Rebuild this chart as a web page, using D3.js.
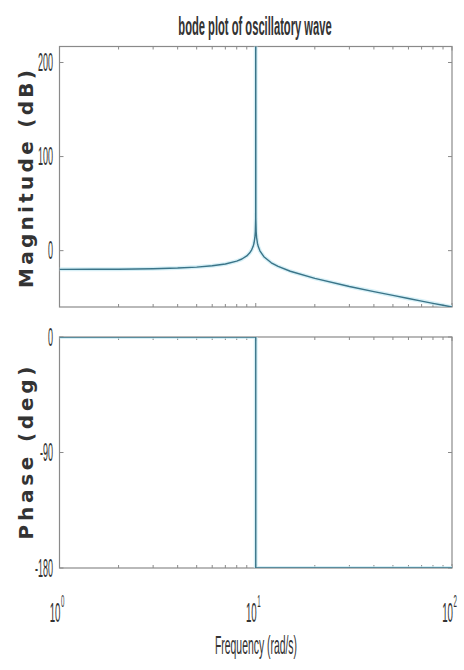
<!DOCTYPE html>
<html>
<head>
<meta charset="utf-8">
<script src="https://cdn.jsdelivr.net/npm/d3@7"></script>
<style>
  html, body { margin: 0; padding: 0; background: #fff; }
  svg { display: block; }
  text { font-family: "Liberation Sans", Arial, sans-serif; fill: #333; }
  text.ylab { font-family: "DejaVu Sans", sans-serif; }
</style>
</head>
<body>
<svg id="chart" width="464" height="670"></svg>
<script>
// Frequency samples (rad/s) for the magnitude response
const magFreq = [1, 1.5, 2, 3, 4, 5, 6, 7, 8, 8.5, 9, 9.3, 9.5, 9.7, 9.8, 9.9, 9.95, 9.99,
                 10, 10.01, 10.05, 10.1, 10.2, 10.3, 10.5, 11, 12, 13, 15, 20, 30, 40, 50,
                 60, 70, 80, 90, 100];
// Magnitude (dB) at each sample; the resonance at 10 rad/s runs off the top
const magDb = [-19.9, -19.8, -19.7, -19.2, -18.5, -17.5, -16.1, -14.2, -11.1, -8.9, -5.6, -2.6,
               0.2, 4.6, 8.1, 14.0, 20.0, 34.0,
               300, 34.0, 20.0, 14.0, 7.9, 4.3, -0.2, -6.4, -12.9, -16.8, -21.9, -29.5,
               -38.1, -43.5, -47.6, -50.9, -53.6, -56.0, -58.1, -59.9];
// Phase response: 0 deg below resonance, -180 deg above
const phaseFreq = [1, 10, 10, 100];
const phaseDeg = [0, 0, -180, -180];

const magTicks = [0, 100, 200];
const phaseTicks = [-180, -90, 0];
const freqTicks = [1, 10, 100];
const freqTickExp = ["0", "1", "2"];

const titleText = "bode plot of oscillatory wave";
const magLabel = "Magnitude (dB)";
const phaseLabel = "Phase (deg)";
const freqLabel = "Frequency (rad/s)";

const svg = d3.select("#chart");
const left = 59.5, right = 452;
const magTop = 46.5, magBottom = 307;
const phTop = 337, phBottom = 568;

const x = d3.scaleLog().domain([1, 100]).range([left, right]);
const yMag = d3.scaleLinear().domain([-59.9, 217]).range([magBottom, magTop]);
const yPh = d3.scaleLinear().domain([-180, 0]).range([phBottom, phTop]);

const frameColor = "#8a8a8a";
const lineColor = "#3a7488";
const haloColor = "#c6e9f4";

// minor log ticks between decades
const minorTicks = [];
for (let d = 1; d < 100; d *= 10) for (let k = 2; k <= 9; k++) minorTicks.push(d * k);

function panel(yScale, top, bottom, ticks, clipId) {
  const g = svg.append("g");
  svg.append("defs").append("clipPath").attr("id", clipId)
    .append("rect").attr("x", left).attr("y", top).attr("width", right - left).attr("height", bottom - top);

  // frame
  g.append("rect").attr("x", left).attr("y", top)
    .attr("width", right - left).attr("height", bottom - top)
    .attr("fill", "none").attr("stroke", frameColor).attr("stroke-width", 1.2);

  // y ticks on both sides
  ticks.forEach(t => {
    const yy = yScale(t);
    g.append("line").attr("x1", left).attr("x2", left + 4).attr("y1", yy).attr("y2", yy)
      .attr("stroke", frameColor);
    g.append("line").attr("x1", right - 4).attr("x2", right).attr("y1", yy).attr("y2", yy)
      .attr("stroke", frameColor);
    g.append("text")
      .attr("transform", `translate(53,${yy}) scale(0.36,1)`)
      .attr("text-anchor", "end").attr("dy", "0.35em")
      .attr("font-size", 25).attr("fill", "#666")
      .text(String(t));
  });

  // x ticks (major + minor) on top and bottom edges
  freqTicks.concat(minorTicks).forEach(f => {
    const xx = x(f);
    const len = freqTicks.includes(f) ? 4 : 3;
    g.append("line").attr("x1", xx).attr("x2", xx).attr("y1", top).attr("y2", top + len)
      .attr("stroke", frameColor);
    g.append("line").attr("x1", xx).attr("x2", xx).attr("y1", bottom - len).attr("y2", bottom)
      .attr("stroke", frameColor);
  });
  return g;
}

function drawLine(g, xs, ys, yScale, clipId) {
  const pts = xs.map((f, i) => [x(f), yScale(ys[i])]);
  const line = d3.line();
  const lg = g.append("g").attr("clip-path", `url(#${clipId})`);
  lg.append("path").attr("d", line(pts)).attr("fill", "none")
    .attr("stroke", haloColor).attr("stroke-width", 4).attr("stroke-opacity", 0.7)
    .attr("stroke-linejoin", "round");
  lg.append("path").attr("d", line(pts)).attr("fill", "none")
    .attr("stroke", lineColor).attr("stroke-width", 1.4)
    .attr("stroke-linejoin", "round");
}

const gMag = panel(yMag, magTop, magBottom, magTicks, "clipMag");
drawLine(gMag, magFreq, magDb, yMag, "clipMag");

const gPh = panel(yPh, phTop, phBottom, phaseTicks, "clipPh");
drawLine(gPh, phaseFreq, phaseDeg, yPh, "clipPh");

// title, condensed horizontally
svg.append("text")
  .attr("transform", "translate(255,35) scale(0.43,1)")
  .attr("text-anchor", "middle")
  .attr("font-size", 26).attr("font-weight", "bold").attr("fill", "#222")
  .text(titleText);

// rotated axis labels
function yLabel(text, cy, len) {
  svg.append("text")
    .attr("class", "ylab")
    .attr("transform", `translate(33,${cy}) rotate(-90)`)
    .attr("text-anchor", "middle")
    .attr("font-size", 20).attr("font-weight", "bold").attr("fill", "#111")
    .attr("textLength", len).attr("lengthAdjust", "spacing")
    .text(text);
}
yLabel(magLabel, 179, 218);
yLabel(phaseLabel, 453, 173);

// frequency tick labels: 10 with superscript exponent
freqTicks.forEach((f, i) => {
  const xx = x(f);
  svg.append("text")
    .attr("transform", `translate(${xx + 1},622) scale(0.36,1)`)
    .attr("text-anchor", "end")
    .attr("font-size", 27).attr("fill", "#666")
    .text("10");
  svg.append("text")
    .attr("transform", `translate(${xx + 1.5},607) scale(0.36,1)`)
    .attr("text-anchor", "start")
    .attr("font-size", 17).attr("fill", "#666")
    .text(freqTickExp[i]);
});

// x axis label, condensed horizontally
svg.append("text")
  .attr("transform", "translate(256,654) scale(0.4,1)")
  .attr("text-anchor", "middle")
  .attr("font-size", 26).attr("fill", "#333")
  .text(freqLabel);
</script>
</body>
</html>
